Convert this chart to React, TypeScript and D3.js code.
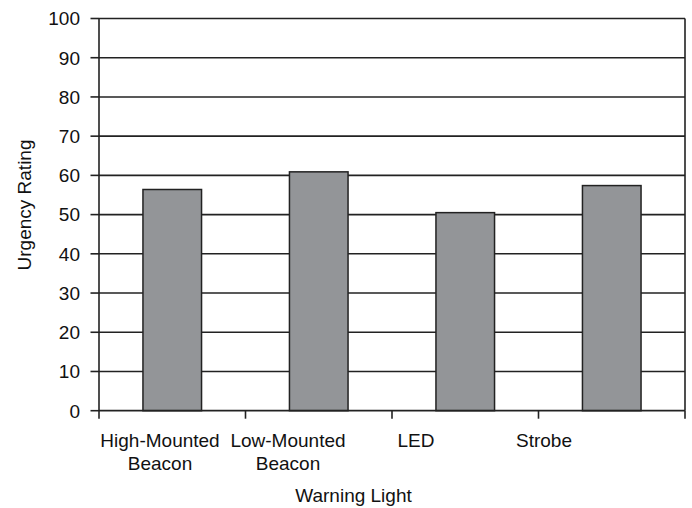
import React from "react";
import * as d3 from "d3";

const categories = [["High-Mounted", "Beacon"], ["Low-Mounted", "Beacon"], ["LED"], ["Strobe"]];
const values = [56.4, 60.9, 50.5, 57.4];
const yTicks = [0, 10, 20, 30, 40, 50, 60, 70, 80, 90, 100];

export default function App() {
  const W = 692, H = 508;
  const left = 99, right = 685, top = 18.5, bottom = 410.7;
  const x = d3.scaleBand<number>().domain(d3.range(categories.length)).range([left, right]).paddingInner(0).paddingOuter(0);
  // category labels in the reference sit on a narrower, left-shifted spacing
  const xl = d3.scaleBand<number>().domain(d3.range(categories.length)).range([96, 608]);
  const y = d3.scaleLinear().domain([0, 100]).range([bottom, top]);
  const bw = x.bandwidth() * 0.4;
  const font = "Liberation Sans, Arial, sans-serif";
  const fs = 19;
  return (
    <svg width={W} height={H} style={{ position: "absolute", left: 0, top: 0, background: "#fff" }} fontFamily={font}>
      {yTicks.map((t) => (
        <g key={t}>
          {t > 0 && <line x1={left} x2={right} y1={y(t)} y2={y(t)} stroke="#222" strokeWidth={1.6} />}
          <line x1={left - 8.5} x2={left} y1={y(t)} y2={y(t)} stroke="#222" strokeWidth={1.6} />
          <text x={80} y={y(t)} dy="0.36em" textAnchor="end" fontSize={fs} fill="#111">{t}</text>
        </g>
      ))}
      {values.map((v, i) => (
        <rect key={i} x={x(i)! + (x.bandwidth() - bw) / 2} y={y(v)} width={bw} height={y(0) - y(v)} fill="#939598" stroke="#222" strokeWidth={1.5} />
      ))}
      <line x1={left} x2={left} y1={top} y2={bottom} stroke="#222" strokeWidth={1.6} />
      <line x1={right} x2={right} y1={top} y2={bottom} stroke="#222" strokeWidth={1.6} />
      <line x1={left} x2={right} y1={bottom} y2={bottom} stroke="#222" strokeWidth={1.8} />
      {d3.range(categories.length + 1).map((i) => {
        const xx = left + i * x.bandwidth();
        return <line key={i} x1={xx} x2={xx} y1={bottom} y2={bottom + 8} stroke="#222" strokeWidth={1.6} />;
      })}
      {categories.map((c, i) => (
        <text key={i} x={xl(i)! + xl.bandwidth() / 2} y={446.7} textAnchor="middle" fontSize={fs} fill="#111">
          {c.map((l, j) => (
            <tspan key={j} x={xl(i)! + xl.bandwidth() / 2} dy={j === 0 ? 0 : 23.5}>{l}</tspan>
          ))}
        </text>
      ))}
      <text x={353.5} y={502} textAnchor="middle" fontSize={fs} fill="#111">Warning Light</text>
      <text transform={`translate(30.5,205) rotate(-90)`} textAnchor="middle" fontSize={fs} fill="#111">Urgency Rating</text>
    </svg>
  );
}
